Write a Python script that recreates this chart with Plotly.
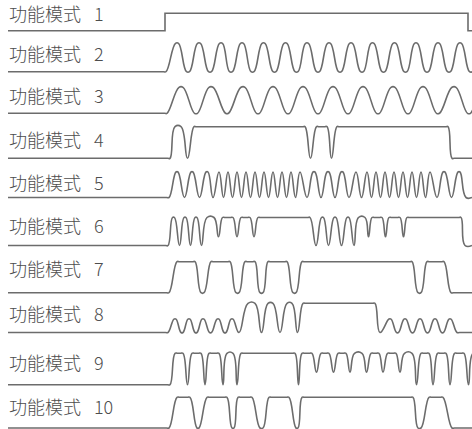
import plotly.graph_objects as go

LABELS = ["功能模式\u2002 1", "功能模式\u2002 2", "功能模式\u2002 3", "功能模式\u2002 4",
          "功能模式\u2002 5", "功能模式\u2002 6", "功能模式\u2002 7", "功能模式\u2002 8",
          "功能模式\u2002 9", "功能模式\u2002 10"]

# waveform of each mode: (t0, t1, level) = hold level from t0 to t1, (t, level) = turning point
# level 0 = rest line under the label, 1 = full swing
MODE_1 = [(8, 165, 0), (165, 468, 1), (468, 472, 0)]
MODE_2 = [(8, 166, 0), (175.5, 178.5, 1), (186.5, 189.5, 0), (197.5, 200.5, 1), (208.5, 211.5, 0),
          (219.5, 222.5, 1), (229.5, 232.5, 0), (240.5, 243.5, 1), (251, 254, 0), (262, 265, 1),
          (273, 276, 0), (284, 287, 1), (295, 298, 0), (305.5, 308.5, 1), (316.5, 319.5, 0),
          (327.5, 330.5, 1), (338.5, 341.5, 0), (349.5, 352.5, 1), (360.5, 363.5, 0),
          (371, 374, 1), (382, 385, 0), (393, 396, 1), (404, 407, 0), (414.5, 417.5, 1),
          (425.5, 428.5, 0), (436.5, 439.5, 1), (447.5, 450.5, 0), (458.5, 461.5, 1),
          (469.5, 472.5, 0)]
MODE_3 = [(8, 167, 0), (179, 183, 1), (194.5, 197.5, 0), (209, 213, 1), (225.5, 228.5, 0),
          (241, 245, 1), (256.5, 259.5, 0), (271, 275, 1), (286.5, 289.5, 0), (301, 305, 1),
          (316.5, 319.5, 0), (331, 335, 1), (346.5, 349.5, 0), (361, 365, 1), (376.5, 379.5, 0),
          (391, 395, 1), (406.5, 409.5, 0), (421, 425, 1), (436.5, 439.5, 0), (452, 456, 1),
          (467.5, 470.5, 0), (482, 486, 1)]
MODE_4 = [(8, 170, 0), (175, 181, 1), (187.5, 0), (194, 305, 1), (310.5, 0), (316.5, 327, 1),
          (331.5, 0), (337, 448, 1), (452, 472, 0)]
MODE_5 = [(8, 169, 0), (176, 178, 1), (184.5, 0), (191, 193, 1), (199.5, 0), (206, 208, 1),
          (213, 0), (219, 1), (223.5, 0), (228, 1), (232.5, 0), (237, 1), (241.5, 0), (246, 1),
          (250.5, 0), (255, 1), (259.5, 0), (264, 1), (268.5, 0), (273, 1), (277.5, 0),
          (282, 1), (286.5, 0), (291, 1), (295.5, 0), (300, 1), (307, 0), (313, 315, 1),
          (321, 0), (327, 329, 1), (335, 0), (341, 343, 1), (349, 0), (356, 1), (361.5, 0),
          (367, 1), (371.5, 0), (376, 1), (380.5, 0), (385, 1), (389.5, 0), (394, 1),
          (398.5, 0), (403, 1), (407.5, 0), (412, 1), (416.5, 0), (421, 1), (425.5, 0),
          (430, 1), (437, 0), (443, 445, 1), (451.5, 0), (458, 460, 1), (466, 472, 0)]
MODE_6 = [(8, 168, 0), (172.5, 174.5, 1), (179.5, 0), (184, 186, 1), (190.5, 0), (195, 197, 1),
          (201.5, 0), (207, 214, 1), (218.5, 0.31), (222.5, 233, 1), (237, 0.31), (241, 250, 1),
          (254, 0.31), (258, 310, 1), (316, 0), (321.5, 323.5, 1), (328.5, 0), (334, 336, 1),
          (341.5, 0), (347, 349, 1), (354, 0), (358.5, 365, 1), (368.5, 0.31), (372, 382, 1),
          (385.5, 0.31), (389, 400, 1), (403.5, 0.31), (407, 461, 1), (465, 472, 0)]
MODE_7 = [(8, 169, 0), (177, 195, 1), (201, 204, 0), (211, 230, 1), (236, 239, 0),
          (245, 255, 1), (260, 263, 0), (268, 287, 1), (293, 296, 0), (302, 412, 1),
          (418, 421, 0), (427, 444, 1), (451, 472, 0)]
MODE_8 = [(8, 168, 0), (174, 176, 0.46), (181, 183, 0), (188, 190, 0.46), (195, 197, 0),
          (202, 204, 0.46), (209.5, 211.5, 0), (217, 219, 0.46), (224, 226, 0), (231, 233, 0.46),
          (239, 0), (248, 255, 1), (261.5, 0), (268, 273, 1), (280, 0), (287, 292, 1),
          (297.5, 0), (303, 375, 1), (380, 0), (389, 391, 0.46), (396.5, 398.5, 0),
          (404, 406, 0.46), (411.5, 413.5, 0), (419, 421, 0.46), (426.5, 428.5, 0),
          (434, 436, 0.46), (441.5, 443.5, 0), (449, 451, 0.46), (457, 472, 0)]
MODE_9 = [(8, 170, 0), (175, 183, 1), (187.5, 0), (192, 201, 1), (205, 0), (209, 219, 1),
          (223, 0), (227, 233, 1), (237, 0), (241, 295, 1), (298.5, 0), (302, 312, 1),
          (316.5, 0.4), (321, 329, 1), (333.5, 0.4), (338, 346, 1), (350, 0.4),
          (354.5, 362, 1), (366.5, 0.4), (371, 379, 1), (383, 0.4), (387.5, 396, 1),
          (400, 0.4), (404.5, 412, 1), (416.5, 0), (421, 429, 1), (433, 0), (437.5, 446, 1),
          (450, 0), (454.5, 464, 1), (468.5, 0), (473, 480, 1)]
MODE_10 = [(8, 169, 0), (177, 190, 1), (197, 199, 0), (207, 227, 1), (232, 234, 0),
           (238, 252, 1), (260, 263, 0), (269, 289, 1), (296, 298, 0), (302, 413, 1),
           (418, 421, 0), (429, 443, 1), (452, 472, 0)]

WAVES = [MODE_1, MODE_2, MODE_3, MODE_4, MODE_5, MODE_6, MODE_7, MODE_8, MODE_9, MODE_10]

# page layout (pixels from top): rest line, full-swing line, label centre
W, H = 472, 429
ROW_BASE = [30.7, 71.7, 113.3, 158.3, 197.5, 245.5, 292.7, 332.5, 384.7, 428.0]
ROW_TOP = [13.3, 43.3, 87.3, 126.7, 172.0, 217.5, 261.7, 303.3, 353.3, 397.3]
LABEL_Y = [13.5, 53, 95, 139, 182, 225, 268, 313, 362, 406]
LINE = "#6c6c6c"
GUARD = 2.5  # keeps the spline flat along held levels


def knots(wave):
    xs, ys = [], []
    for seg in wave:
        if len(seg) == 2:
            pts, lvl = [seg[0]], seg[1]
        else:
            t0, t1, lvl = seg
            pts = [t0, t0 + GUARD, t1 - GUARD, t1] if t1 - t0 > 3 * GUARD else [t0, t1]
        xs += pts
        ys += [lvl] * len(pts)
    return xs, ys


fig = go.Figure()
layout = dict(
    width=W, height=H,
    margin=dict(l=0, r=0, t=0, b=0, pad=0),
    paper_bgcolor="white", plot_bgcolor="white",
    showlegend=False,
    xaxis=dict(range=[0, W], visible=False, fixedrange=True),
)

annotations = []
for i, wave in enumerate(WAVES):
    xs, ys = knots(wave)
    ax = "y" if i == 0 else f"y{i + 1}"
    fig.add_trace(go.Scatter(
        x=xs, y=ys, mode="lines", yaxis=ax, hoverinfo="skip",
        line=dict(color=LINE, width=1.6, shape="linear" if i == 0 else "spline", smoothing=1.3),
    ))
    amp = ROW_BASE[i] - ROW_TOP[i]
    axis = dict(range=[(ROW_BASE[i] - H) / amp, ROW_BASE[i] / amp], domain=[0, 1],
                visible=False, fixedrange=True)
    if i:
        axis["overlaying"] = "y"
    layout["yaxis" if i == 0 else f"yaxis{i + 1}"] = axis

    annotations.append(dict(
        text=LABELS[i], x=7, y=1 - LABEL_Y[i] / H, xref="x", yref="paper",
        xanchor="left", yanchor="middle", showarrow=False,
        font=dict(family="Noto Sans CJK SC", size=18, color="#4d4d4d", weight=300),
    ))

fig.update_layout(**layout, annotations=annotations)
fig.write_html("out.html", config={"displayModeBar": False},
               post_script="document.body.style.margin='0';document.body.style.overflow='hidden';")
